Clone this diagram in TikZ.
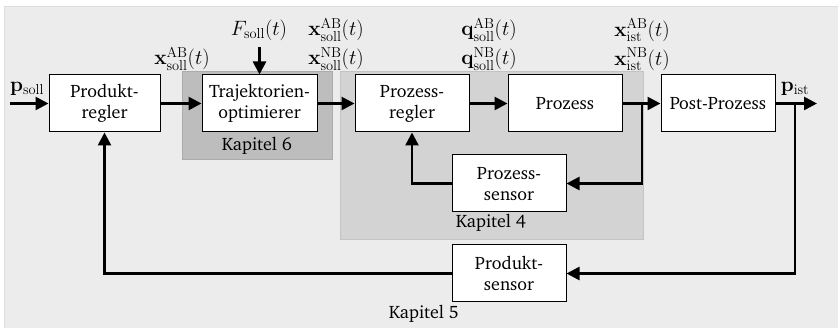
\documentclass[tikz,border=0pt]{standalone}
\usepackage[T1]{fontenc}
\usepackage{charter}
\usepackage{amsmath}
\usetikzlibrary{arrows.meta,positioning}
\definecolor{bgpanel}{HTML}{ECECEC}
\definecolor{bgedge}{HTML}{DDDDDD}
\definecolor{chapsix}{HTML}{BDBDBD}
\definecolor{chapsixedge}{HTML}{ABABAB}
\definecolor{chapfour}{HTML}{D3D3D3}
\definecolor{chapfouredge}{HTML}{C3C3C3}
\newcommand{\blocktext}{\fontsize{18}{21}\selectfont}
\newcommand{\signaltext}{\fontsize{20}{24}\selectfont}
\tikzset{
  blockbox/.style={draw=black, line width=1pt, fill=white, minimum width=114pt,
    minimum height=57pt, inner sep=0pt, align=center, font=\blocktext},
  sig/.style={line width=2.6pt, -{Triangle[length=13pt,width=13pt]}},
  lbl/.style={inner sep=0pt, font=\blocktext},
  siglbl/.style={inner sep=0pt, font=\signaltext},
}
\begin{document}
\begin{tikzpicture}[x=1pt,y=-1pt]
\useasboundingbox (0,0) rectangle (838,328);
% panel
\fill[bgpanel, draw=bgedge, line width=1pt] (4,7) rectangle (842,332);
% chapter regions
\fill[chapsix, draw=chapsixedge, line width=1pt] (182,72) rectangle (332,160);
\fill[chapfour, draw=chapfouredge, line width=1pt] (340,72) rectangle (643,240);
\node[lbl] (k6) at (257,146) {Kapitel 6};
\node[lbl] (k4) at (491,223) {Kapitel 4};
\node[lbl] (k5) at (424,314) {Kapitel 5};
% blocks
\node[blockbox, minimum width=111pt] (pr) at (104.5,103.5) {Produkt-\\regler};
\node[blockbox, minimum width=115pt] (to) at (259.5,103.5) {Trajektorien-\\optimierer};
\node[blockbox] (zr) at (412,103.5) {Prozess-\\regler};
\node[blockbox] (pz) at (565,103.5) {Prozess};
\node[blockbox] (pp) at (718,103.5) {Post-Prozess};
\node[blockbox] (zs) at (509,183.5) {Prozess-\\sensor};
\node[blockbox] (ps) at (509,273.5) {Produkt-\\sensor};
% free ends and junctions
\coordinate (in) at (10,103.5);
\coordinate (out) at (817,103.5);
\coordinate (ftop) at (259.5,47);
\coordinate (j1) at (642,103.5);
\coordinate (j2) at (795,103.5);
% forward path
\draw[sig] (in) -- (pr.west);
\draw[sig] (pr) -- (to);
\draw[sig] (to) -- (zr);
\draw[sig] (zr) -- (pz);
\draw[sig] (pz) -- (pp);
\draw[sig] (pp) -- (out);
\draw[sig] (ftop) -- (to.north);
% inner loop
\draw[sig] (j1) |- (zs.east);
\draw[sig] (zs.west) -| (zr.south);
% outer loop
\draw[sig] (j2) |- (ps.east);
\draw[sig] (ps.west) -| (pr.south);
% signal labels
\node[siglbl] (lps) at (27,89) {$\mathbf{p}_{\mathrm{soll}}$};
\node[siglbl] (lpi) at (795,89) {$\mathbf{p}_{\mathrm{ist}}$};
\node[siglbl] (lx1) at (182,59) {$\mathbf{x}^{\mathrm{AB}}_{\mathrm{soll}}(t)$};
\node[siglbl] (lf) at (259,30) {$F_{\mathrm{soll}}(t)$};
\node[siglbl] (lx2) at (336,30) {$\mathbf{x}^{\mathrm{AB}}_{\mathrm{soll}}(t)$};
\node[siglbl] (lx3) at (336,59) {$\mathbf{x}^{\mathrm{NB}}_{\mathrm{soll}}(t)$};
\node[siglbl] (lq1) at (489,30) {$\mathbf{q}^{\mathrm{AB}}_{\mathrm{soll}}(t)$};
\node[siglbl] (lq2) at (489,59) {$\mathbf{q}^{\mathrm{NB}}_{\mathrm{soll}}(t)$};
\node[siglbl] (li1) at (642,30) {$\mathbf{x}^{\mathrm{AB}}_{\mathrm{ist}}(t)$};
\node[siglbl] (li2) at (642,59) {$\mathbf{x}^{\mathrm{NB}}_{\mathrm{ist}}(t)$};
\end{tikzpicture}
\end{document}
